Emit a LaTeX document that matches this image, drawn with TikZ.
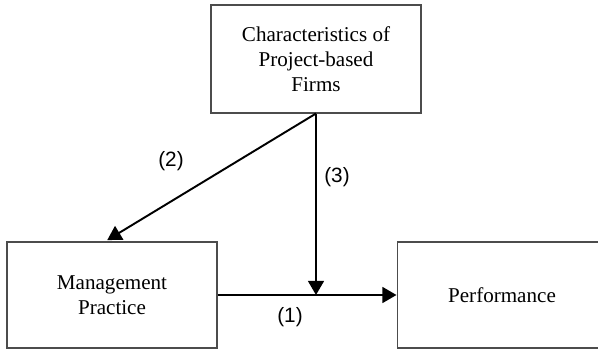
\documentclass[tikz,border=0pt]{standalone}
\usepackage{fontspec}
\setmainfont{Liberation Serif}
\newfontfamily\labfont{Liberation Sans}
\usetikzlibrary{arrows.meta}

\begin{document}
\begin{tikzpicture}[x=0.02cm, y=-0.02cm, box/.style={draw=black!70, line width=0.6pt, minimum width=4.2cm, align=center, font=\fontsize{12}{14.2}\selectfont}, arr/.style={line width=1.1pt, -{Triangle[length=8pt, width=9pt]}}, lab/.style={font=\labfont\fontsize{11.8}{13}\selectfont}]
            \useasboundingbox (0,0) rectangle (598,350);
            \node[box, minimum height=2.16cm] (chars) at (316,59) {Characteristics of\\Project-based\\Firms}; \node[box, minimum height=2.12cm] (mgmt) at (112,295) {Management\\Practice}; \node[box, minimum height=2.12cm] (perf) at (502,295) {Performance};
            \coordinate (join) at (chars.south |- mgmt.east);
            \draw[arr] (mgmt.east) -- (perf.west);
            \draw[arr] (chars.south) -- (join);
            \draw[arr, shorten >=1.5pt] (chars.south) -- ([xshift=-4]mgmt.north);
            \node[lab] (l1) at (290,317) {(1)}; \node[lab] (l2) at (171,161) {(2)}; \node[lab] (l3) at (337,177) {(3)};% Labels
        \end{tikzpicture}
\end{document}
